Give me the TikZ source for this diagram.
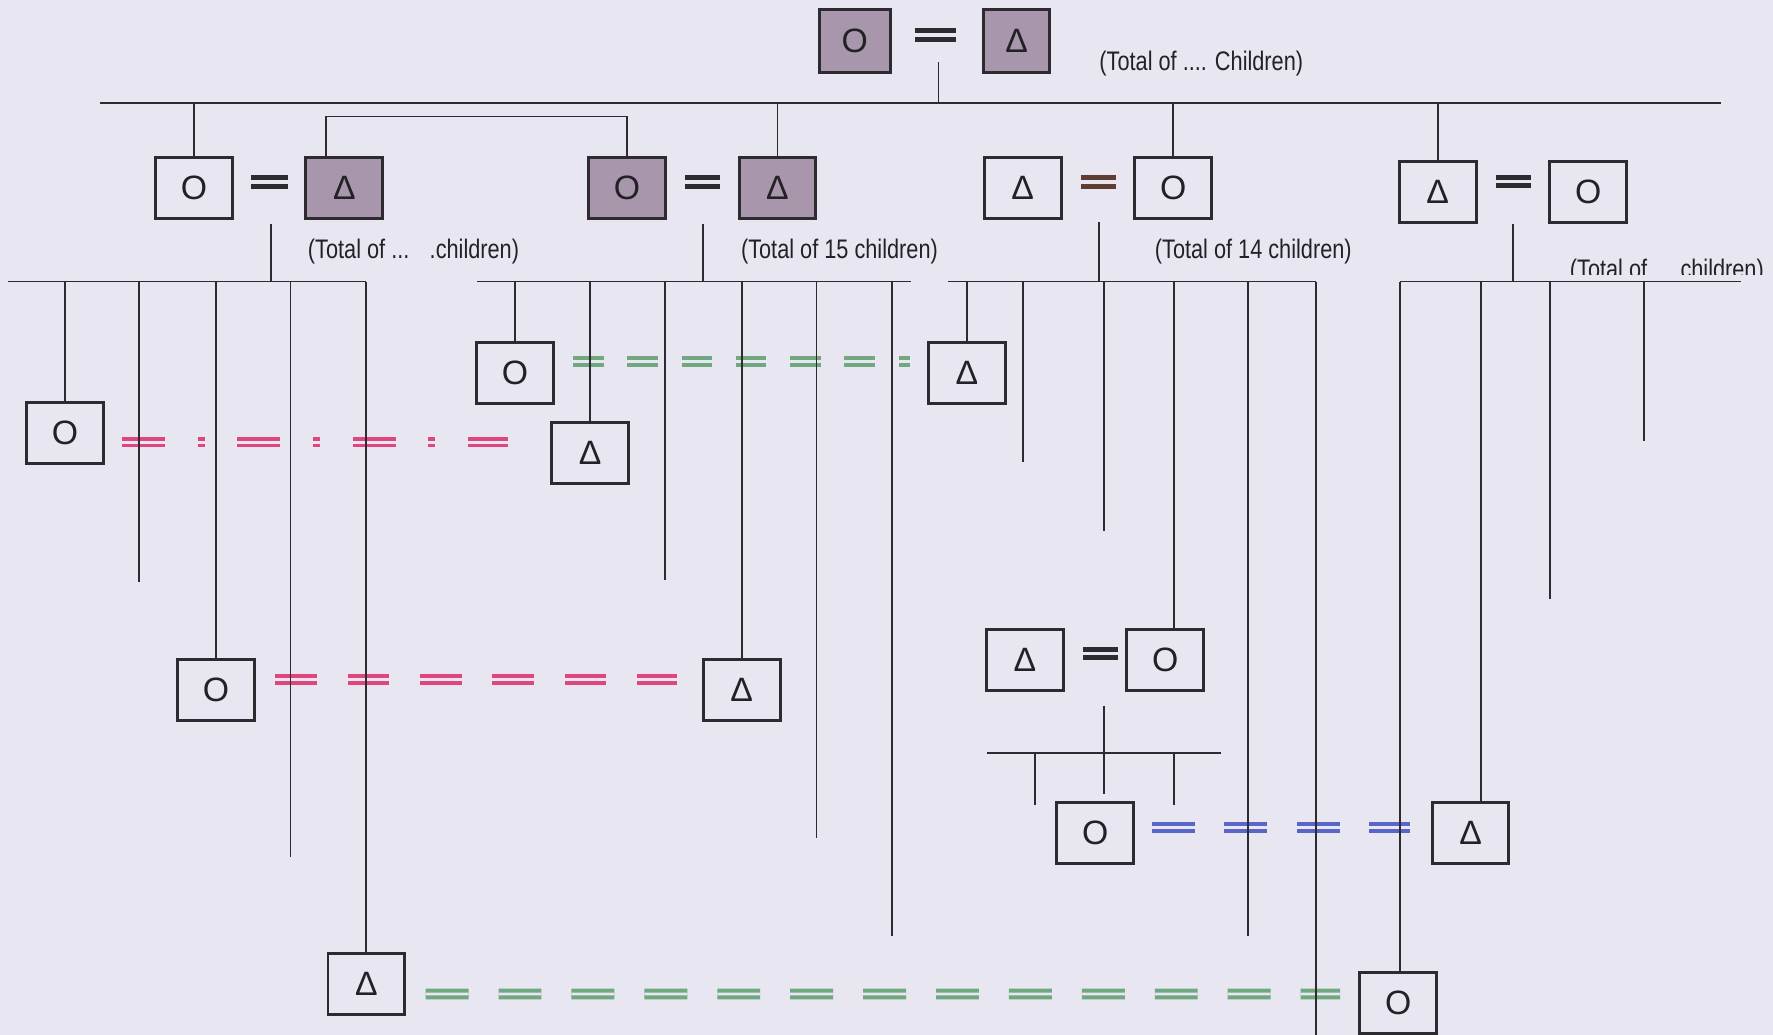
\documentclass[tikz,border=0pt]{standalone}
\usepackage{fontspec}
\setmainfont{Liberation Sans}
\newfontfamily\labfont[FakeStretch=0.81]{Liberation Sans}
\usetikzlibrary{calc}
\definecolor{bg}{RGB}{232,230,240}
\definecolor{boxfill}{RGB}{168,151,172}
\definecolor{ink}{RGB}{45,43,47}
\definecolor{txt}{RGB}{35,33,37}
\definecolor{pinkc}{RGB}{222,70,125}
\definecolor{greenc}{RGB}{112,168,128}
\definecolor{bluec}{RGB}{88,102,200}
\definecolor{brownc}{RGB}{95,60,52}
\tikzset{
 pbox/.style={draw=ink, line width=1pt, minimum width=1.34cm, minimum height=1.06cm, inner sep=0pt, font=\fontsize{17}{17}\selectfont, text=txt, fill=bg},
 pfill/.style={pbox, fill=boxfill},
 ln/.style={draw=ink, line width=0.9pt},
 eqs/.style={draw=ink, line width=2.5pt, double=bg, double distance=1.6pt},
 cdbl/.style={line width=2pt, double=bg, double distance=1.4pt},
 lab/.style={font=\labfont\fontsize{13.5}{14}\selectfont, text=txt, inner sep=0pt, anchor=base west},
}
\begin{document}
\begin{tikzpicture}[x=0.02cm,y=-0.02cm]
\fill[bg] (0,0) rectangle (1568,915);
\useasboundingbox (0,0) rectangle (1568,915);

% ---- nodes (positions) ----
\node[pfill, minimum width=1.24cm, minimum height=1.1cm] (g1o) at (756,36) {O};
\node[pfill, minimum width=1.14cm, minimum height=1.1cm] (g1d) at (899,36) {Δ};
\node[lab] (t0) at (972,62) {(Total of .... Children)};

\node[pbox]  (f1o) at (171.5,166.5) {O};
\node[pfill] (f1d) at (304.5,166.5) {Δ};
\node[pfill] (f2o) at (554.5,166.5) {O};
\node[pfill] (f2d) at (687.5,166.5) {Δ};
\node[pbox]  (f3d) at (904.5,166.5) {Δ};
\node[pbox]  (f3o) at (1037.5,166.5) {O};
\node[pbox]  (f4d) at (1271.5,169.5) {Δ};
\node[pbox]  (f4o) at (1404.5,169.5) {O};

\node[lab] (t1) at (272,229) {(Total of ...\hspace{0.36cm}.children)};
\node[lab] (t2) at (655,229) {(Total of 15 children)};
\node[lab] (t3) at (1021,229) {(Total of 14 children)};
\begin{scope}
\clip (1380,200) rectangle (1568,243);
\node[lab] (t4) at (1388,246) {(Total of\hspace{0.59cm}children)};
\end{scope}

\node[pbox] (c1o) at (57.5,383) {O};
\node[pbox] (c2o) at (191,610.5) {O};
\node[pbox] (c3d) at (324,870.5) {Δ};
\node[pbox] (c4o) at (455.5,329.5) {O};
\node[pbox] (c5d) at (522,400.5) {Δ};
\node[pbox] (c6d) at (656,610.5) {Δ};
\node[pbox] (c7d) at (855,329.5) {Δ};
\node[pbox] (c8s) at (906.5,583.5) {Δ};
\node[pbox] (c8o) at (1030.5,583.5) {O};
\node[pbox] (c9o) at (1236.5,887) {O};
\node[pbox] (c10d) at (1300.5,736.5) {Δ};
\node[pbox] (g4o) at (968.5,736.5) {O};

% ---- coloured marriage lines ----
\draw[cdbl, pinkc, dash pattern=on 0.76cm off 0.58cm on 0.12cm off 0.58cm]
  ($(c1o.east)+(16,8)$) -- ($(c5d.west)+(-38,-9.5)$);
\draw[cdbl, greenc, dash pattern=on 0.54cm off 0.42cm]
  ($(c4o.east)+(17,-9.5)$) -- ($(c7d.west)+(-16,-9.5)$);
\draw[cdbl, pinkc, dash pattern=on 0.74cm off 0.54cm]
  ($(c2o.east)+(18,-9.5)$) -- ($(c6d.west)+(-23,-9.5)$);
\draw[cdbl, bluec, dash pattern=on 0.76cm off 0.52cm]
  ($(g4o.east)+(16,-4.5)$) -- ($(c10d.west)+(-19,-4.5)$);
\draw[cdbl, greenc, dash pattern=on 0.76cm off 0.53cm]
  ($(c3d.east)+(18,8.5)$) -- ($(c9o.west)+(-17,-8)$);

% ---- black marriage signs ----
\draw[eqs] ($(g1o.east)+(21,-5)$) -- ($(g1d.west)+(-24.5,-5)$);
\draw[eqs] ($(f1o.east)+(16,-5.5)$) -- ($(f1d.west)+(-15,-5.5)$);
\draw[eqs] ($(f2o.east)+(17,-5.5)$) -- ($(f2d.west)+(-16,-5.5)$);
\draw[eqs, draw=brownc] ($(f3d.east)+(17,-5.5)$) -- ($(f3o.west)+(-16,-5.5)$);
\draw[eqs] ($(f4d.east)+(17,-9)$) -- ($(f4o.west)+(-16,-9)$);
\draw[eqs] ($(c8s.east)+(17,-5.5)$) -- ($(c8o.west)+(-7,-5.5)$);

% ---- generation 1 -> 2 ----
\coordinate (tl) at (88,91);
\coordinate (tr) at (1522,91);
\coordinate (tstem) at (830,55);
\draw[ln] (tl) -- (tr);
\draw[ln] (tstem) -- (tstem |- tl);
\draw[ln] (f1o.north) -- (f1o.north |- tl);
\draw[ln] (f2d.north) -- (f2d.north |- tl);
\draw[ln] (f3o.north) -- (f3o.north |- tl);
\draw[ln] (f4d.north) -- (f4d.north |- tl);
\draw[ln] ($(f1d.north)+(-16.5,0)$) -- ++(0,-36) -| (f2o.north);

% ---- family 1 ----
\coordinate (s1) at (240,198);
\coordinate (l1a) at (7,249);
\coordinate (l1b) at (324,249);
\coordinate (e12) at (123,515);
\coordinate (e14) at (257,758);
\draw[ln] (s1) -- (s1 |- l1a);
\draw[ln] (l1a) -- (l1b);
\draw[ln] (c1o.north) -- (c1o.north |- l1a);
\draw[ln] (e12 |- l1a) -- (e12);
\draw[ln] (c2o.north) -- (c2o.north |- l1a);
\draw[ln] (e14 |- l1a) -- (e14);
\draw[ln] (l1b) -- (c3d.north);

% ---- family 2 ----
\coordinate (s2) at (622,198);
\coordinate (l2a) at (422,249);
\coordinate (l2b) at (806,249);
\coordinate (e23) at (588,513);
\coordinate (e25) at (722,741);
\coordinate (e26) at (789,828);
\draw[ln] (s2) -- (s2 |- l2a);
\draw[ln] (l2a) -- (l2b);
\draw[ln] (c4o.north) -- (c4o.north |- l2a);
\draw[ln] (c5d.north) -- (c5d.north |- l2a);
\draw[ln] (e23 |- l2a) -- (e23);
\draw[ln] (c6d.north) -- (c6d.north |- l2a);
\draw[ln] (e25 |- l2a) -- (e25);
\draw[ln] (e26 |- l2a) -- (e26);

% ---- family 3 ----
\coordinate (s3) at (972,196);
\coordinate (l3a) at (838,249);
\coordinate (l3b) at (1164,249);
\coordinate (e32) at (905,409);
\coordinate (e33) at (976,470);
\coordinate (k34) at (1038,249);
\coordinate (e35) at (1104,828);
\coordinate (e36) at (1164,915);
\draw[ln] (s3) -- (s3 |- l3a);
\draw[ln] (l3a) -- (l3b);
\draw[ln] (c7d.north) -- (c7d.north |- l3a);
\draw[ln] (e32 |- l3a) -- (e32);
\draw[ln] (e33 |- l3a) -- (e33);
\draw[ln] (k34) -- (k34 |- c8o.north);
\draw[ln] (e35 |- l3a) -- (e35);
\draw[ln] (l3b) -- (e36);

% ---- family 4 ----
\coordinate (s4) at (1338,198);
\coordinate (l4a) at (1238,249);
\coordinate (l4b) at (1540,249);
\coordinate (k42) at (1310,249);
\coordinate (e43) at (1371,530);
\coordinate (e44) at (1454,390);
\draw[ln] (s4) -- (s4 |- l4a);
\draw[ln] (l4a) -- (l4b);
\draw[ln] (l4a) -- (l4a |- c9o.north);
\draw[ln] (k42) -- (k42 |- c10d.north);
\draw[ln] (e43 |- l4a) -- (e43);
\draw[ln] (e44 |- l4a) -- (e44);

% ---- sub family ----
\coordinate (s5) at (976,624);
\coordinate (l5a) at (873,666);
\coordinate (l5b) at (1080,666);
\coordinate (t51) at (915,712);
\coordinate (t52) at (976,702);
\coordinate (t53) at (1038,712);
\draw[ln] (s5) -- (s5 |- l5a);
\draw[ln] (l5a) -- (l5b);
\draw[ln] (t51 |- l5a) -- (t51);
\draw[ln] (t52 |- l5a) -- (t52);
\draw[ln] (t53 |- l5a) -- (t53);

% redraw box outlines on top of lines
\foreach \n in {g1o,g1d,f1o,f1d,f2o,f2d,f3d,f3o,f4d,f4o,c1o,c2o,c3d,c4o,c5d,c6d,c7d,c8s,c8o,c9o,c10d,g4o}{
  \draw[draw=ink, line width=1pt] (\n.north west) rectangle (\n.south east);
}
\end{tikzpicture}
\end{document}
